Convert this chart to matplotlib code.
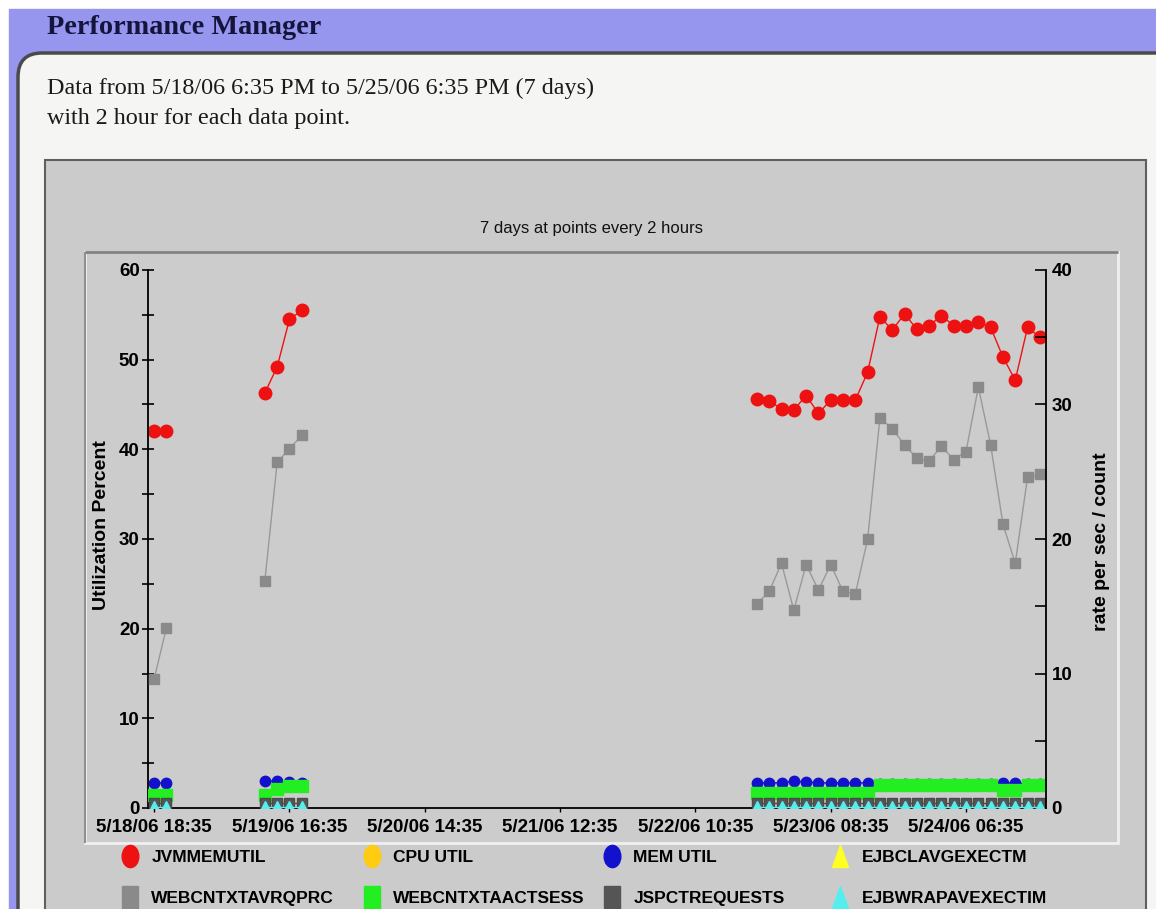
import numpy as np
import pandas as pd
import matplotlib
matplotlib.use("Agg")
from matplotlib import pyplot as plt
from matplotlib import font_manager
from matplotlib.lines import Line2D
from matplotlib.markers import MarkerStyle
from matplotlib.patches import Rectangle, FancyBboxPatch
from matplotlib.transforms import Affine2D

W, H = 1156, 909

# time slots: one point every 2 hours starting 5/18/06 18:35
START = "2006-05-18 18:35"
N_SLOTS = 73
OBSERVED = [0, 1, 9, 10, 11, 12] + list(range(49, 73))

TICK_LABELS = ["5/18/06 18:35", "5/19/06 16:35", "5/20/06 14:35", "5/21/06 12:35",
               "5/22/06 10:35", "5/23/06 08:35", "5/24/06 06:35"]

# left axis (Utilization Percent)
JVMMEMUTIL = [42.0, 42.0,
              46.3, 49.2, 54.5, 55.5,
              45.6, 45.4, 44.5, 44.4, 46.0, 44.0, 45.5, 45.5, 45.5, 48.6,
              54.8, 53.3, 55.1, 53.4, 53.8, 54.9, 53.8, 53.8, 54.2, 53.6,
              50.3, 47.7, 53.6, 52.5]
CPU_UTIL = []
MEM_UTIL = [2.8, 2.8,
            3.0, 3.0, 2.9, 2.8,
            2.8, 2.8, 2.8, 3.0, 2.9, 2.8, 2.8, 2.8, 2.8, 2.8,
            2.7, 2.7, 2.7, 2.7, 2.7, 2.7, 2.7, 2.7, 2.7, 2.7,
            2.8, 2.8, 2.7, 2.7]

# right axis (rate per sec / count)
EJBCLAVGEXECTM = []
WEBCNTXTAVRQPRC = [9.6, 13.4,
                   16.9, 25.7, 26.7, 27.7,
                   15.2, 16.1, 18.2, 14.7, 18.1, 16.2, 18.1, 16.1, 15.9, 20.0,
                   29.0, 28.2, 27.0, 26.0, 25.8, 26.9, 25.9, 26.5, 31.3, 27.0,
                   21.1, 18.2, 24.6, 24.8]
WEBCNTXTAACTSESS = [1.0, 1.0,
                    1.0, 1.4, 1.6, 1.6,
                    1.1, 1.1, 1.1, 1.1, 1.1, 1.1, 1.1, 1.1, 1.1, 1.1,
                    1.7, 1.7, 1.7, 1.7, 1.7, 1.7, 1.7, 1.7, 1.7, 1.7,
                    1.35, 1.35, 1.7, 1.7]
JSPCTREQUESTS = [0.4] * 30
EJBWRAPAVEXECTIM = [0.05] * 30


def pick(*names):
    avail = {f.name for f in font_manager.fontManager.ttflist}
    for n in names:
        if n in avail:
            return n
    return "DejaVu Sans"


SERIF = pick("Liberation Serif", "DejaVu Serif")
SANS = pick("Liberation Sans", "DejaVu Sans")
NARROW = pick("Liberation Sans Narrow", "Liberation Sans")


def spread(values):
    # put the observed values on the full 2-hour grid, gaps as NaN
    full = np.full(N_SLOTS, np.nan)
    if len(values):
        full[OBSERVED] = values
    return full


times = pd.date_range(START, periods=N_SLOTS, freq="2h")
slots = np.arange(N_SLOTS)
tick_pos = [times.get_loc(pd.to_datetime(t, format="%m/%d/%y %H:%M")) for t in TICK_LABELS]

fig = plt.figure(figsize=(W / 100, H / 100), dpi=100)

# page decoration, drawn in pixel units
bg = fig.add_axes([0, 0, 1, 1])
bg.set_xlim(0, W)
bg.set_ylim(H, 0)
bg.axis("off")
bg.add_patch(Rectangle((0, 0), W, H, color="white"))
bg.add_patch(Rectangle((9, 9), W, H, color="#9696ee"))
bg.add_patch(FancyBboxPatch((18, 53), W + 60, H, boxstyle="round,pad=0,rounding_size=24",
                            fc="#f5f5f3", ec="#4a4a4a", lw=2.5))
bg.add_patch(Rectangle((45, 160), 1101, 800, fc="#cbcbcb", ec="#5f5f5f", lw=1.5))
bg.add_patch(Rectangle((85, 252), 1033, 591, fc="#cccccc", ec="#f0f0f0", lw=2))
bg.hlines(252, 85, 1118, color="#808080", lw=2)
bg.vlines(85, 252, 843, color="#909090", lw=1.5)

bg.text(47, 34, "Performance Manager", family=SERIF, weight="bold", size=20.3,
        color="#14143c", va="baseline")
bg.text(47, 94, "Data from 5/18/06 6:35 PM to 5/25/06 6:35 PM (7 days)",
        family=SERIF, size=17.4, color="#1a1a1a", va="baseline")
bg.text(47, 124, "with 2 hour for each data point.",
        family=SERIF, size=17.4, color="#1a1a1a", va="baseline")
bg.text(592, 228, "7 days at points every 2 hours", family=NARROW, size=12,
        ha="center", va="center", color="#111111")

# main chart
ax = fig.add_axes([148 / W, 1 - 808 / H, 898 / W, 538 / H])
ax.set_facecolor("#cccccc")
ax.set_xlim(-0.5, N_SLOTS - 0.5)
ax.set_ylim(0, 60)
ax2 = ax.twinx()
ax2.set_ylim(0, 40)

l_jvm, = ax.plot(slots, spread(JVMMEMUTIL), color="#ee1111", lw=1.0, marker="o",
                 ms=9, mec="#ee1111", label="JVMMEMUTIL")
l_cpu, = ax.plot(slots, spread(CPU_UTIL), color="#ffcc11", lw=1.0, marker="o",
                 ms=8, label="CPU UTIL")
l_mem, = ax.plot(slots, spread(MEM_UTIL), color="#1212cc", lw=1.0, marker="o",
                 ms=7.5, label="MEM UTIL")
l_ejbcl, = ax2.plot(slots, spread(EJBCLAVGEXECTM), color="#ffff22", lw=1.0, marker="^",
                    ms=7, label="EJBCLAVGEXECTM")
l_web, = ax2.plot(slots, spread(WEBCNTXTAVRQPRC), color="#999999", lw=1.0, marker="s",
                  ms=7.5, mfc="#8a8a8a", mec="#8a8a8a", label="WEBCNTXTAVRQPRC")
l_sess, = ax2.plot(slots, spread(WEBCNTXTAACTSESS), color="#22ee22", lw=1.0, marker="s",
                   ms=8.5, label="WEBCNTXTAACTSESS")
l_jsp, = ax2.plot(slots, spread(JSPCTREQUESTS), color="#4a4a4a", lw=1.0, marker="s",
                  ms=7.5, mfc="#555555", label="JSPCTREQUESTS")
l_wrap, = ax2.plot(slots, spread(EJBWRAPAVEXECTIM), color="#55eeee", lw=1.0, marker="^",
                   ms=8, label="EJBWRAPAVEXECTIM")

for s in ["top", "right"]:
    ax.spines[s].set_visible(False)
for s in ["top", "left", "bottom"]:
    ax2.spines[s].set_visible(False)
for sp in [ax.spines["left"], ax.spines["bottom"], ax2.spines["right"]]:
    sp.set_color("black")
    sp.set_linewidth(1.3)

tick_font = dict(family=SANS, weight="bold", size=13.5)
ax.set_yticks(np.arange(0, 61, 10))
ax.set_yticks(np.arange(5, 60, 10), minor=True)
ax.set_yticklabels([str(v) for v in range(0, 61, 10)], **tick_font)
ax.tick_params(axis="y", which="both", direction="inout", length=8, width=1.2, pad=2)
ax2.set_yticks(np.arange(0, 41, 10))
ax2.set_yticks(np.arange(5, 40, 10), minor=True)
ax2.set_yticklabels([str(v) for v in range(0, 41, 10)], **tick_font)
ax2.tick_params(axis="y", which="both", direction="in", length=8, width=1.2, pad=4)
ax.set_xticks(tick_pos)
ax.set_xticklabels(TICK_LABELS, **tick_font)
ax.tick_params(axis="x", direction="out", length=3, width=1.0, pad=5)

ax.set_ylabel("Utilization Percent", family=SANS, weight="bold", size=14)
ax.yaxis.set_label_coords((110 - 148) / 898, (808 - 525) / 538)
ax2.set_ylabel("rate per sec / count", family=SANS, weight="bold", size=14)
ax2.yaxis.set_label_coords((1093 - 148) / 898, (808 - 542) / 538)

# legend: four columns, two rows
tall = Affine2D().scale(0.75, 1.0)
def proxy(line, marker):
    return Line2D([], [], linestyle="none", color=line.get_color(),
                  marker=MarkerStyle(marker, transform=tall), markersize=16,
                  mfc=line.get_markerfacecolor(), mec=line.get_markerfacecolor())

columns = [(l_jvm, "o", l_web, "s", 130), (l_cpu, "o", l_sess, "s", 372),
           (l_mem, "o", l_jsp, "s", 612), (l_ejbcl, "^", l_wrap, "^", 840)]
for a, ma, b, mb, x in columns:
    leg = fig.legend(handles=[proxy(a, ma), proxy(b, mb)],
                     labels=[a.get_label(), b.get_label()],
                     loc="center left", bbox_to_anchor=((x - 9) / W, 1 - 878 / H),
                     frameon=False, handlelength=1.0, handletextpad=0.75,
                     borderpad=0, borderaxespad=0, labelspacing=1.5,
                     prop=dict(family=NARROW, weight="bold", size=12.5))

fig.savefig("out.png", dpi=100)
